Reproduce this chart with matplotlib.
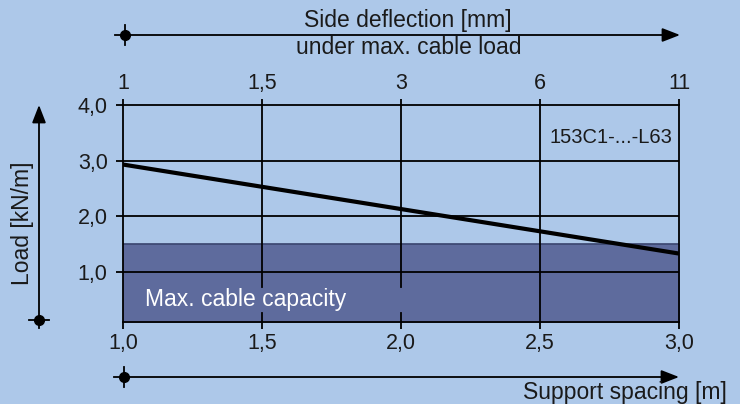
import matplotlib
matplotlib.use("Agg")
import matplotlib.pyplot as plt
from matplotlib.lines import Line2D

# ---- data ----
spacing = [1.0, 3.0]                 # support spacing [m]
load = [2.93, 1.33]                  # load [kN/m]
capacity = 1.5                       # max. cable capacity [kN/m]
x_ticks = [1.0, 1.5, 2.0, 2.5, 3.0]
x_ticklabels = ["1,0", "1,5", "2,0", "2,5", "3,0"]
y_ticks = [1.0, 2.0, 3.0, 4.0]
y_ticklabels = ["1,0", "2,0", "3,0", "4,0"]
top_ticklabels = ["1", "1,5", "3", "6", "11"]   # side deflection [mm]

BG = "#adc8e9"
FILL = "#5e6b9d"
TXT = "#1a1a1a"
FONT = "Liberation Sans"
plt.rcParams["font.family"] = [FONT, "DejaVu Sans"]

W, H = 740, 404
fig = plt.figure(figsize=(W / 100, H / 100), dpi=100, facecolor=BG)
ax = fig.add_axes([123 / W, 1 - 322 / H, (679 - 123) / W, (322 - 105) / H])
ax.set_facecolor(BG)
ax.set_xlim(1.0, 3.0)
ax.set_ylim(0.1, 4.0)

# capacity area
ax.fill_between(spacing, 0, capacity, color=FILL, zorder=1)
ax.plot(spacing, [capacity, capacity], color="#3b4670", lw=1.2, zorder=1.5)

# grid
for y in y_ticks[:-1]:
    ax.axhline(y, color="black", lw=1.3, zorder=2)
gap_lo, gap_hi = (0.26 - 0.1) / 3.9, (0.73 - 0.1) / 3.9
for x in x_ticks[1:-1]:
    if x < 2.25:
        ax.axvline(x, ymin=0, ymax=gap_lo, color="black", lw=1.3, zorder=2)
        ax.axvline(x, ymin=gap_hi, ymax=1, color="black", lw=1.3, zorder=2)
    else:
        ax.axvline(x, color="black", lw=1.3, zorder=2)

# load line
ax.plot(spacing, load, color="black", lw=3.0, zorder=3, solid_capstyle="butt")

for s in ax.spines.values():
    s.set_linewidth(1.3)
    s.set_zorder(2.5)

ax.set_xticks(x_ticks)
ax.set_xticklabels(x_ticklabels)
ax.set_yticks(y_ticks)
ax.set_yticklabels(y_ticklabels)
ax.tick_params(axis="both", direction="out", length=5, width=1.3,
               labelsize=15.5, colors="black", labelcolor=TXT)
ax.tick_params(axis="x", pad=3)
ax.tick_params(axis="y", pad=6)

top = ax.secondary_xaxis("top")
top.set_xticks(x_ticks)
top.set_xticklabels(top_ticklabels)
top.tick_params(direction="out", length=4, width=1.3, labelsize=15.5, pad=4,
                labelcolor=TXT)
top.spines["top"].set_visible(False)

ax.text(2.975, 3.42, "153C1-...-L63", ha="right", va="center",
        fontsize=14.5, color=TXT, zorder=4)
ax.text(1.08, 0.5, "Max. cable capacity", ha="left", va="center",
        fontsize=16.5, color="white", zorder=4)

# axis arrows and labels (figure pixel coords converted to fractions)
def fx(px):
    return px / W

def fy(py):
    return 1 - py / H

def arrow(x0, y0, x1, y1):
    fig.add_artist(matplotlib.patches.FancyArrowPatch(
        (fx(x0), fy(y0)), (fx(x1), fy(y1)), transform=fig.transFigure,
        arrowstyle="-|>,head_length=0.9,head_width=0.35", mutation_scale=12,
        lw=1.3, color="black", shrinkA=0, shrinkB=0))
    fig.add_artist(Line2D([fx(x0)], [fy(y0)], transform=fig.transFigure,
                          marker="o", ms=7, color="black"))
    if y0 == y1:
        fig.add_artist(Line2D([fx(x0), fx(x0)], [fy(y0 - 10), fy(y0 + 10)],
                              transform=fig.transFigure, lw=1.3, color="black"))
        fig.add_artist(Line2D([fx(x0 - 10), fx(x0)], [fy(y0), fy(y0)],
                              transform=fig.transFigure, lw=1.3, color="black"))
    else:
        fig.add_artist(Line2D([fx(x0 - 10), fx(x0 + 10)], [fy(y0), fy(y0)],
                              transform=fig.transFigure, lw=1.3, color="black"))
        fig.add_artist(Line2D([fx(x0), fx(x0)], [fy(y0), fy(y0 + 8)],
                              transform=fig.transFigure, lw=1.3, color="black"))

arrow(125, 35, 680, 35)
arrow(124, 377, 679, 377)
arrow(39, 320, 39, 105)

fig.text(fx(408), fy(21), "Side deflection [mm]", ha="center", va="center",
         fontsize=16.5, color=TXT)
fig.text(fx(409), fy(48), "under max. cable load", ha="center", va="center",
         fontsize=16.5, color=TXT)
fig.text(fx(727), fy(392), "Support spacing [m]", ha="right", va="center",
         fontsize=16.5, color=TXT)
fig.text(fx(23), fy(223), "Load [kN/m]", ha="center", va="center",
         fontsize=16.5, rotation=90, color=TXT)

fig.savefig("out.png", dpi=100, facecolor=BG)
